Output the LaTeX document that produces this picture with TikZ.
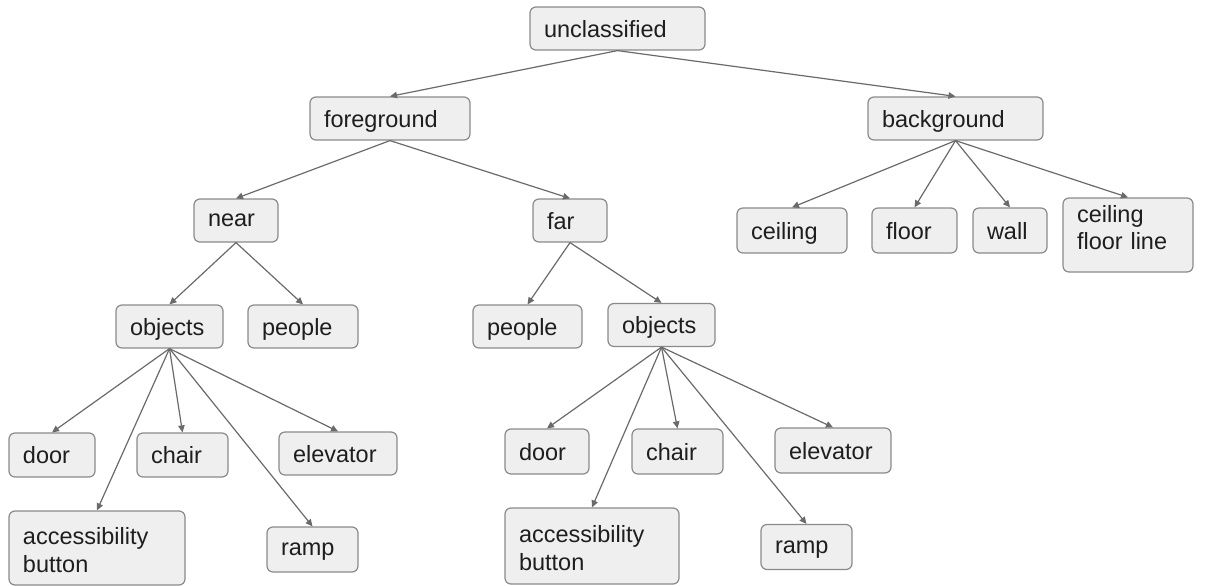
\documentclass[tikz,border=0pt]{standalone}
\usepackage{fontspec}
\setmainfont{Liberation Sans}
\usetikzlibrary{arrows.meta}
\definecolor{boxfill}{HTML}{EFEFEF}
\definecolor{boxline}{HTML}{8A8A8A}
\definecolor{arrowc}{HTML}{6A6A6A}
\definecolor{txt}{HTML}{1E1E1E}
\begin{document}
\begin{tikzpicture}[x=1pt,y=-1pt,
  box/.style={draw=boxline, fill=boxfill, line width=1.2pt, rounded corners=6pt,
    inner xsep=14pt, inner ysep=0pt, align=left, text=txt, text depth=0pt,
    font=\fontsize{23.5}{27.5}\selectfont, minimum height=43pt},
  arr/.style={draw=arrowc, line width=1.2pt, -{Triangle[length=7pt,width=6.5pt]}}]
\useasboundingbox (0,0) rectangle (1205,586);

\node[box, text width=147pt] (unc) at (617.5,28.5) {unclassified};
\node[box, text width=132pt] (fg) at (390,118.5) {foreground};
\node[box, text width=147pt] (bg) at (955.5,118.5) {background};

\node[box, text width=56pt] (near) at (236,220.5) {near};
\node[box, text width=46pt] (far) at (570,220.5) {far};

\node[box, text width=82pt, minimum height=45pt] (ceil) at (792,230.5) {ceiling};
\node[box, text width=57pt, minimum height=45pt] (floor) at (914.5,230.5) {floor};
\node[box, text width=46pt, minimum height=45pt] (wall) at (1010,230.5) {wall};
\node[box, text width=102pt, minimum height=74pt, text depth=43pt] (cfl) at (1128,235) {ceiling\\floor line};

\node[box, text width=79pt] (objL) at (169.5,326.5) {objects};
\node[box, text width=82pt] (peoL) at (303,326.5) {people};
\node[box, text width=81pt] (peoR) at (527.5,326.5) {people};
\node[box, text width=79pt] (objR) at (661.5,325) {objects};

\node[box, text width=58pt, minimum height=44pt] (doorL) at (52,455) {door};
\node[box, text width=63pt, minimum height=44pt] (chairL) at (182.5,455) {chair};
\node[box, text width=90pt] (elevL) at (338,453.5) {elevator};
\node[box, text width=148pt, minimum height=74pt, text depth=24pt] (accL) at (97,548) {accessibility\\button};
\node[box, text width=63pt, minimum height=45pt] (rampL) at (312.5,549.5) {ramp};

\node[box, text width=56pt, minimum height=45pt] (doorR) at (547,451.5) {door};
\node[box, text width=63pt, minimum height=45pt] (chairR) at (677.5,451.5) {chair};
\node[box, text width=88pt, minimum height=45pt] (elevR) at (833,450.5) {elevator};
\node[box, text width=146pt, minimum height=76pt, text depth=24pt] (accR) at (592,546) {accessibility\\button};
\node[box, text width=63pt, minimum height=45pt] (rampR) at (806.5,547) {ramp};

\draw[arr] (unc.south) -- (fg.north);
\draw[arr] (unc.south) -- (bg.north);
\draw[arr] (fg.south) -- (near.north);
\draw[arr] (fg.south) -- (far.north);
\draw[arr] (bg.south) -- (ceil.north);
\draw[arr] (bg.south) -- (floor.north);
\draw[arr] (bg.south) -- (wall.north);
\draw[arr] (bg.south) -- (cfl.north);
\draw[arr] (near.south) -- (objL.north);
\draw[arr] (near.south) -- (peoL.north);
\draw[arr] (far.south) -- (peoR.north);
\draw[arr] (far.south) -- (objR.north);
\draw[arr] (objL.south) -- (doorL.north);
\draw[arr] (objL.south) -- (accL.north);
\draw[arr] (objL.south) -- (chairL.north);
\draw[arr] (objL.south) -- (rampL.north);
\draw[arr] (objL.south) -- (elevL.north);
\draw[arr] (objR.south) -- (doorR.north);
\draw[arr] (objR.south) -- (accR.north);
\draw[arr] (objR.south) -- (chairR.north);
\draw[arr] (objR.south) -- (rampR.north);
\draw[arr] (objR.south) -- (elevR.north);
\end{tikzpicture}
\end{document}
